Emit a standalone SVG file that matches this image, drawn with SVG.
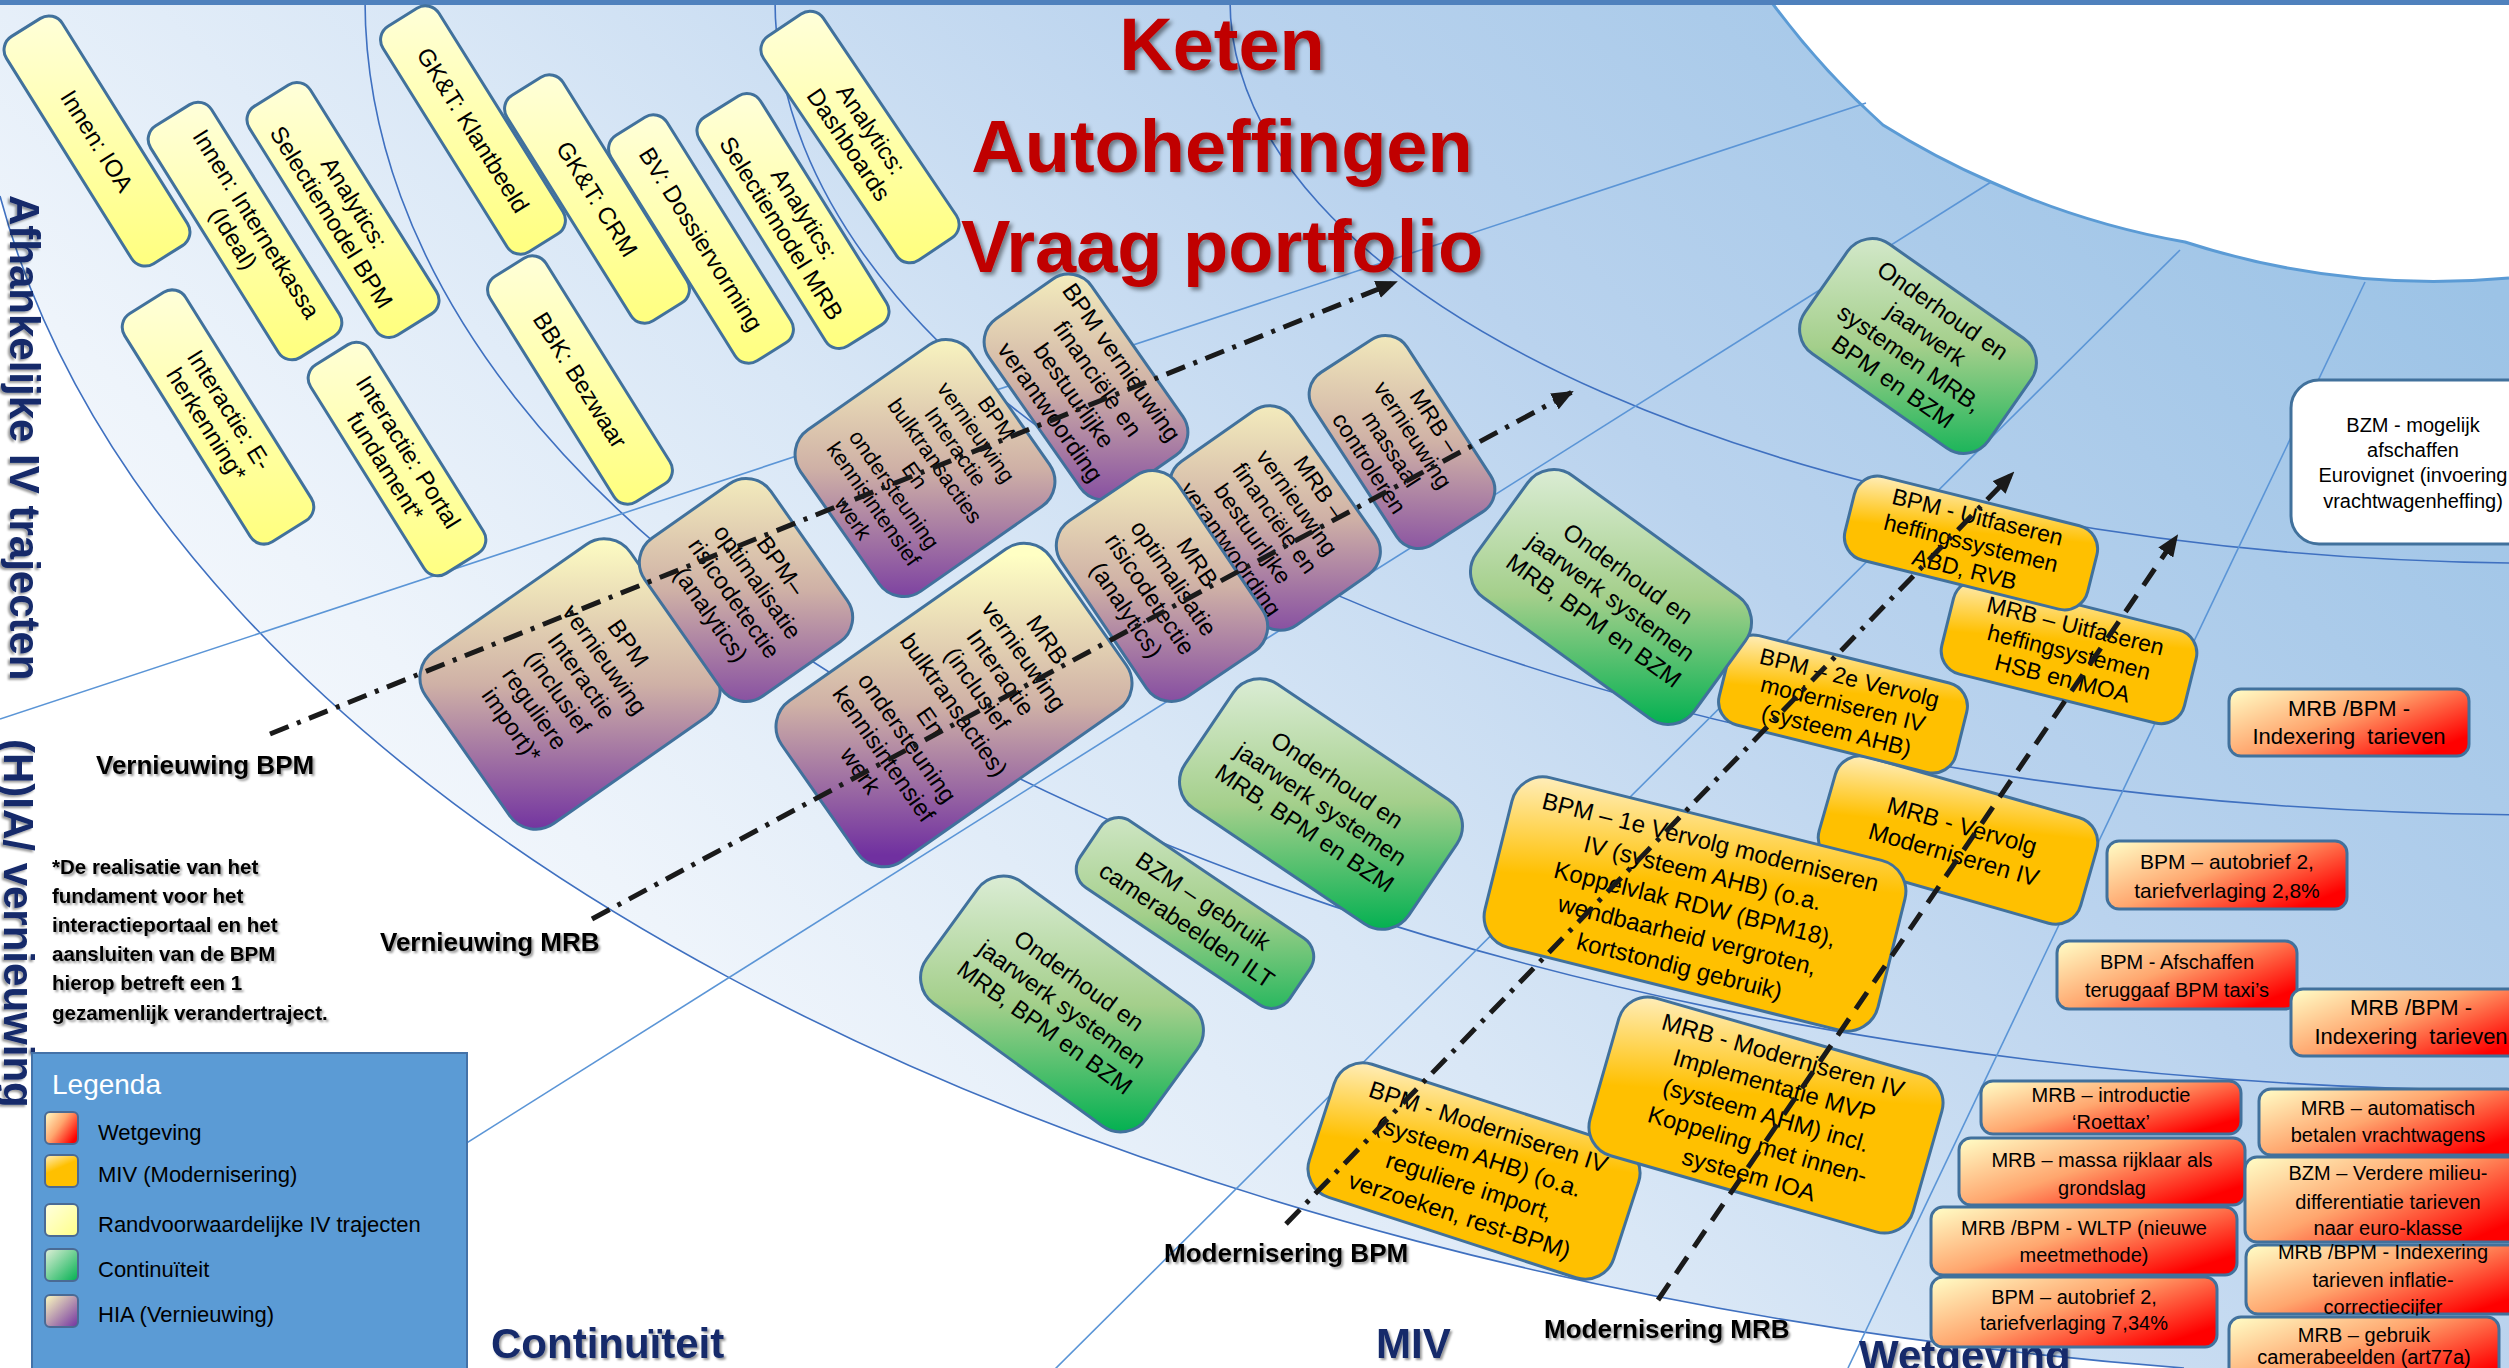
<svg xmlns="http://www.w3.org/2000/svg" width="2509" height="1368" viewBox="0 0 2509 1368">
<defs>
<style>
text{font-family:"Liberation Sans",Arial,sans-serif;}
.arc{fill:none;stroke:#3f70c0;stroke-width:1.6}
.rad{fill:none;stroke:#5b95d6;stroke-width:1.6}
.box{stroke:#41719c;stroke-width:3}
.c{text-anchor:middle;fill:#000}
.f24{font-size:24px}.f23{font-size:23px}.f22{font-size:22px}.f20{font-size:20px}.f21{font-size:21px}
.sec{font-size:42px;font-weight:bold;fill:#13296b;filter:url(#ts)}
.lbl{font-size:26px;font-weight:bold;fill:#000;filter:url(#ts)}
.note{font-size:20.5px;font-weight:bold;fill:#000;filter:url(#ts)}
.title{font-size:74px;font-weight:bold;fill:#c00000;text-anchor:middle;filter:url(#tts)}
.dd{fill:none;stroke:#1a1a1a;stroke-width:5;stroke-dasharray:20 9 4 9;marker-end:url(#ah)}
.ds{fill:none;stroke:#1a1a1a;stroke-width:5;stroke-dasharray:20 12;marker-end:url(#ah)}
</style>
<filter id="ts" x="-5%" y="-10%" width="112%" height="130%"><feDropShadow dx="2" dy="2" stdDeviation="1.2" flood-color="#000" flood-opacity="0.4"/></filter>
<filter id="tts" x="-5%" y="-10%" width="112%" height="130%"><feDropShadow dx="3" dy="3" stdDeviation="2" flood-color="#000" flood-opacity="0.45"/></filter>
<linearGradient id="gBg" gradientUnits="userSpaceOnUse" x1="2350" y1="150" x2="900" y2="1600">
<stop offset="0" stop-color="#9cc3e6"/><stop offset="0.35" stop-color="#bad3ee"/><stop offset="0.62" stop-color="#d9e7f6"/><stop offset="0.85" stop-color="#eef4fb"/><stop offset="1" stop-color="#f7fafd"/>
</linearGradient>
<linearGradient id="gYel" gradientUnits="userSpaceOnUse" x1="-112" y1="-70" x2="112" y2="70"><stop offset="0" stop-color="#ffffdb"/><stop offset="1" stop-color="#ffff7c"/></linearGradient>
<linearGradient id="gHia" gradientUnits="userSpaceOnUse" x1="-123" y1="-86" x2="123" y2="86"><stop offset="0" stop-color="#ffffc4"/><stop offset="0.5" stop-color="#cfb1a6"/><stop offset="1" stop-color="#7030a0"/></linearGradient>
<linearGradient id="gGrn" gradientUnits="userSpaceOnUse" x1="-75" y1="-106" x2="75" y2="106"><stop offset="0" stop-color="#dcedd6"/><stop offset="0.5" stop-color="#a4cf8b"/><stop offset="1" stop-color="#00b050"/></linearGradient>
<linearGradient id="gOra" x1="0" y1="0" x2="0.45" y2="1"><stop offset="0" stop-color="#fff0c4"/><stop offset="0.5" stop-color="#ffc000"/><stop offset="1" stop-color="#ffc000"/></linearGradient>
<linearGradient id="gRed" x1="0" y1="0" x2="1" y2="0.7"><stop offset="0" stop-color="#ffffc8"/><stop offset="0.5" stop-color="#ffa66e"/><stop offset="1" stop-color="#ff0000"/></linearGradient>
<linearGradient id="lY" x1="0" y1="0" x2="1" y2="1"><stop offset="0" stop-color="#ffffe0"/><stop offset="1" stop-color="#ffff88"/></linearGradient>
<linearGradient id="lG" x1="0" y1="0" x2="1" y2="1"><stop offset="0" stop-color="#e2f0d9"/><stop offset="1" stop-color="#00b050"/></linearGradient>
<linearGradient id="lH" x1="0" y1="0" x2="1" y2="1"><stop offset="0" stop-color="#ffffc0"/><stop offset="1" stop-color="#7030a0"/></linearGradient>
<marker id="ah" viewBox="0 0 11 9" refX="10" refY="4.5" markerWidth="22" markerHeight="18" markerUnits="userSpaceOnUse" orient="auto"><path d="M0,0 L11,4.5 L0,9 z" fill="#1a1a1a"/></marker>
</defs>

<rect x="0" y="0" width="2509" height="1368" fill="#fff"/>
<g id="background">
<path d="M0,0 L1770,0 A812,812 0 0 0 1883,125 A812,812 0 0 0 1991,182 A812,812 0 0 0 2185,242 A812,812 0 0 0 2509,278 L2509,1368 L2184,1368 A2576,1382 0 0 1 0,196 Z" fill="url(#gBg)"/>
<path class="arc" d="M1230,0 A1320,563 0 0 0 2509,563"/>
<path class="arc" d="M775,0 A1775,815 0 0 0 2509,814.8"/>
<path class="arc" d="M365,0 A2185,1091 0 0 0 2509,1090.8"/>
<path class="arc" d="M0,196 A2576,1382 0 0 0 2184,1368"/>
<path class="rad" d="M0,719 L1866,103"/>
<path class="rad" d="M400,1185 L1991,182"/>
<path class="rad" d="M1040,1384 L2180,250"/>
<path class="rad" d="M1848,1368 L2365,282"/>
<path fill="none" stroke="#5b9bd5" stroke-width="3" d="M1770,0 A812,812 0 0 0 1883,125 A812,812 0 0 0 1991,182 A812,812 0 0 0 2185,242 A812,812 0 0 0 2509,278"/>
<rect x="0" y="0" width="2509" height="5" fill="#4f81bd"/>
</g>

<g id="sector-labels">
<text class="sec" transform="translate(10,195) rotate(90)">Afhankelijke IV trajecten</text>
<text class="sec" transform="translate(4,739) rotate(90)">(H)IA/ vernieuwing</text>
<text class="sec" x="491" y="1358">Continuïteit</text>
<text class="sec" x="1376" y="1358">MIV</text>
<text class="sec" x="1859" y="1370">Wetgeving</text>
</g>

<g id="title">
<text class="title" x="1222" y="70">Keten</text>
<text class="title" x="1222" y="172">Autoheffingen</text>
<text class="title" x="1222" y="272">Vraag portfolio</text>
</g>

<g id="nodes-randvoorwaardelijk">
<g id="n-innen-ioa" transform="translate(97,141) rotate(58)"><rect class="box" x="-134" y="-33" width="268" height="66" rx="16" fill="url(#gYel)"/><text class="c f24" y="8.4">Innen: IOA</text></g>
<g id="n-internetkassa" transform="translate(245,231) rotate(58)"><rect class="box" x="-136.5" y="-36" width="273" height="72" rx="16" fill="url(#gYel)"/><text class="c f24"><tspan x="0" y="-5.1">Innen: Internetkassa</tspan><tspan x="0" y="21.9">(Ideal)</tspan></text></g>
<g id="n-selectiemodel-bpm" transform="translate(343,210) rotate(58)"><rect class="box" x="-135" y="-36" width="270" height="72" rx="16" fill="url(#gYel)"/><text class="c f24"><tspan x="0" y="-5.1">Analytics:</tspan><tspan x="0" y="21.9">Selectiemodel BPM</tspan></text></g>
<g id="n-eherkenning" transform="translate(218,417) rotate(58)"><rect class="box" x="-134.5" y="-36" width="269" height="72" rx="16" fill="url(#gYel)"/><text class="c f24"><tspan x="0" y="-5.1">Interactie: E-</tspan><tspan x="0" y="21.9">herkenning*</tspan></text></g>
<g id="n-portal" transform="translate(397,459) rotate(58)"><rect class="box" x="-123" y="-35" width="246" height="70" rx="16" fill="url(#gYel)"/><text class="c f24"><tspan x="0" y="-5.1">Interactie: Portal</tspan><tspan x="0" y="21.9">fundament*</tspan></text></g>
<g id="n-klantbeeld" transform="translate(473,130) rotate(58)"><rect class="box" x="-133" y="-33" width="266" height="66" rx="16" fill="url(#gYel)"/><text class="c f24" y="8.4">GK&amp;T: Klantbeeld</text></g>
<g id="n-crm" transform="translate(597,199) rotate(58)"><rect class="box" x="-133" y="-33" width="266" height="66" rx="16" fill="url(#gYel)"/><text class="c f24" y="8.4">GK&amp;T: CRM</text></g>
<g id="n-dossiervorming" transform="translate(701,239) rotate(58)"><rect class="box" x="-133" y="-33" width="266" height="66" rx="16" fill="url(#gYel)"/><text class="c f24" y="8.4">BV: Dossiervorming</text></g>
<g id="n-selectiemodel-mrb" transform="translate(793,221) rotate(58)"><rect class="box" x="-135" y="-36" width="270" height="72" rx="16" fill="url(#gYel)"/><text class="c f24"><tspan x="0" y="-5.1">Analytics:</tspan><tspan x="0" y="21.9">Selectiemodel MRB</tspan></text></g>
<g id="n-dashboards" transform="translate(860,137) rotate(56)"><rect class="box" x="-135" y="-36" width="270" height="72" rx="16" fill="url(#gYel)"/><text class="c f24"><tspan x="0" y="-5.1">Analytics:</tspan><tspan x="0" y="21.9">Dashboards</tspan></text></g>
<g id="n-bezwaar" transform="translate(580,380) rotate(58)"><rect class="box" x="-133" y="-33" width="266" height="66" rx="16" fill="url(#gYel)"/><text class="c f24" y="8.4">BBK: Bezwaar</text></g>
</g>

<g id="nodes-hia">
<g id="n-bpm-fin" transform="translate(1086,387) rotate(55)"><rect class="box" x="-107.5" y="-62.5" width="215" height="125" rx="28" fill="url(#gHia)"/><text class="c f24"><tspan x="0" y="-35.1">BPM vernieuwing</tspan><tspan x="0" y="-6.1">financiële en</tspan><tspan x="0" y="22.9">bestuurlijke</tspan><tspan x="0" y="51.9">verantwoording</tspan></text></g>
<g id="n-mrb-massaal" transform="translate(1402,442) rotate(57)"><rect class="box" x="-102.5" y="-56" width="205" height="112" rx="26" fill="url(#gHia)"/><text class="c f23"><tspan x="0" y="-31">MRB –</tspan><tspan x="0" y="-5">vernieuwing</tspan><tspan x="0" y="21">massaal</tspan><tspan x="0" y="47">controleren</tspan></text></g>
<g id="n-mrb-fin" transform="translate(1275,518) rotate(55)"><rect class="box" x="-100" y="-72" width="200" height="144" rx="28" fill="url(#gHia)"/><text class="c f23"><tspan x="0" y="-46">MRB –</tspan><tspan x="0" y="-19">vernieuwing</tspan><tspan x="0" y="8">financiële en</tspan><tspan x="0" y="35">bestuurlijke</tspan><tspan x="0" y="62">verantwoording</tspan></text></g>
<g id="n-bpm-bulk" transform="translate(925,468) rotate(55)"><rect class="box" x="-98.5" y="-104" width="197" height="208" rx="30" fill="url(#gHia)"/><text class="c f22"><tspan x="0" y="-79.8">BPM</tspan><tspan x="0" y="-54.8">vernieuwing</tspan><tspan x="0" y="-29.8">Interactie</tspan><tspan x="0" y="-4.8">bulktransacties</tspan><tspan x="0" y="20.2">En</tspan><tspan x="0" y="45.2">ondersteuning</tspan><tspan x="0" y="70.2">kennisintensief</tspan><tspan x="0" y="95.2">werk</tspan></text></g>
<g id="n-bpm-interactie" transform="translate(570,684) rotate(55)"><rect class="box" x="-105" y="-125" width="210" height="250" rx="32" fill="url(#gHia)"/><text class="c f24"><tspan x="0" y="-62.85">BPM</tspan><tspan x="0" y="-34.35">vernieuwing</tspan><tspan x="0" y="-5.85">Interactie</tspan><tspan x="0" y="22.65">(inclusief</tspan><tspan x="0" y="51.15">reguliere</tspan><tspan x="0" y="79.65">import)*</tspan></text></g>
<g id="n-bpm-risico" transform="translate(746,590) rotate(55)"><rect class="box" x="-96.5" y="-77" width="193" height="154" rx="30" fill="url(#gHia)"/><text class="c f24"><tspan x="0" y="-34.35">BPM–</tspan><tspan x="0" y="-5.85">optimalisatie</tspan><tspan x="0" y="22.65">risicodetectie</tspan><tspan x="0" y="51.15">(analytics)</tspan></text></g>
<g id="n-mrb-risico" transform="translate(1162,586) rotate(56)"><rect class="box" x="-106" y="-70" width="212" height="140" rx="30" fill="url(#gHia)"/><text class="c f24"><tspan x="0" y="-34.35">MRB</tspan><tspan x="0" y="-5.85">optimalisatie</tspan><tspan x="0" y="22.65">risicodetectie</tspan><tspan x="0" y="51.15">(analytics)</tspan></text></g>
<g id="n-mrb-interactie" transform="translate(954,705) rotate(55)"><rect class="box" x="-98" y="-164" width="196" height="328" rx="32" fill="url(#gHia)"/><text class="c f24"><tspan x="0" y="-105.6">MRB</tspan><tspan x="0" y="-77.1">vernieuwing</tspan><tspan x="0" y="-48.6">Interactie</tspan><tspan x="0" y="-20.1">(inclusief</tspan><tspan x="0" y="8.4">bulktransacties)</tspan><tspan x="0" y="36.9">En</tspan><tspan x="0" y="65.4">ondersteuning</tspan><tspan x="0" y="93.9">kennisintensief</tspan><tspan x="0" y="122.4">werk</tspan></text></g>
</g>

<g id="nodes-miv">
<g id="n-mrb-uitfaseren" transform="translate(2069,652) rotate(14)"><rect class="box" x="-125" y="-48" width="250" height="96" rx="24" fill="url(#gOra)"/><text class="c f23"><tspan x="0" y="-19">MRB – Uitfaseren</tspan><tspan x="0" y="8">heffingsystemen</tspan><tspan x="0" y="35">HSB en MOA</tspan></text></g>
<g id="n-bpm-uitfaseren" transform="translate(1971,543) rotate(14)"><rect class="box" x="-125" y="-43" width="250" height="86" rx="24" fill="url(#gOra)"/><text class="c f23"><tspan x="0" y="-19">BPM - Uitfaseren</tspan><tspan x="0" y="8">heffingssystemen</tspan><tspan x="0" y="35">ABD, RVB</tspan></text></g>
<g id="n-mrb-vervolg" transform="translate(1958,840) rotate(16)"><rect class="box" x="-136" y="-55" width="272" height="110" rx="26" fill="url(#gOra)"/><text class="c f24"><tspan x="0" y="-6.6">MRB - Vervolg</tspan><tspan x="0" y="23.4">Moderniseren IV</tspan></text></g>
<g id="n-bpm-2e" transform="translate(1843,704) rotate(14)"><rect class="box" x="-122" y="-46" width="244" height="92" rx="24" fill="url(#gOra)"/><text class="c f23"><tspan x="0" y="-19">BPM – 2e Vervolg</tspan><tspan x="0" y="8">moderniseren IV</tspan><tspan x="0" y="35">(systeem AHB)</tspan></text></g>
<g id="n-bpm-1e" transform="translate(1695,904) rotate(14)"><rect class="box" x="-202.5" y="-87.5" width="405" height="175" rx="32" fill="url(#gOra)"/><text class="c f24"><tspan x="0" y="-55.6">BPM – 1e Vervolg moderniseren</tspan><tspan x="0" y="-23.6">IV (systeem AHB) (o.a.</tspan><tspan x="0" y="8.4">Koppelvlak RDW (BPM18),</tspan><tspan x="0" y="40.4">wendbaarheid vergroten,</tspan><tspan x="0" y="72.4">kortstondig gebruik)</tspan></text></g>
<g id="n-bpm-moderniseren" transform="translate(1474,1171) rotate(18)"><rect class="box" x="-160" y="-70" width="320" height="140" rx="30" fill="url(#gOra)"/><text class="c f24"><tspan x="0" y="-38.1">BPM - Moderniseren IV</tspan><tspan x="0" y="-7.1">(systeem AHB) (o.a.</tspan><tspan x="0" y="23.9">reguliere import,</tspan><tspan x="0" y="54.9">verzoeken, rest-BPM)</tspan></text></g>
<g id="n-mrb-moderniseren" transform="translate(1766,1115) rotate(16)"><rect class="box" x="-168" y="-82" width="336" height="164" rx="30" fill="url(#gOra)"/><text class="c f24"><tspan x="0" y="-53.6">MRB - Moderniseren IV</tspan><tspan x="0" y="-22.6">Implementatie MVP</tspan><tspan x="0" y="8.4">(systeem AHM) incl.</tspan><tspan x="0" y="39.4">Koppeling met innen-</tspan><tspan x="0" y="70.4">systeem IOA</tspan></text></g>
</g>

<g id="nodes-continuiteit">
<g id="n-onderhoud-1" transform="translate(1918,346) rotate(35)"><rect class="box" x="-112" y="-67" width="224" height="134" rx="30" fill="url(#gGrn)"/><text class="c f24"><tspan x="0" y="-35.1">Onderhoud en</tspan><tspan x="0" y="-6.1">jaarwerk</tspan><tspan x="0" y="22.9">systemen MRB,</tspan><tspan x="0" y="51.9">BPM en BZM</tspan></text></g>
<g id="n-onderhoud-2" transform="translate(1611,597) rotate(36)"><rect class="box" x="-134.5" y="-75.5" width="269" height="151" rx="32" fill="url(#gGrn)"/><text class="c f24"><tspan x="0" y="-20.6">Onderhoud en</tspan><tspan x="0" y="8.4">jaarwerk systemen</tspan><tspan x="0" y="37.4">MRB, BPM en BZM</tspan></text></g>
<g id="n-onderhoud-3" transform="translate(1321,804) rotate(34)"><rect class="box" x="-135" y="-75" width="270" height="150" rx="32" fill="url(#gGrn)"/><text class="c f24"><tspan x="0" y="-20.6">Onderhoud en</tspan><tspan x="0" y="8.4">jaarwerk systemen</tspan><tspan x="0" y="37.4">MRB, BPM en BZM</tspan></text></g>
<g id="n-bzm-ilt" transform="translate(1195,913) rotate(34)"><rect class="box" x="-126.5" y="-40" width="253" height="80" rx="22" fill="url(#gGrn)"/><text class="c f24"><tspan x="0" y="-6.1">BZM – gebruik</tspan><tspan x="0" y="22.9">camerabeelden ILT</tspan></text></g>
<g id="n-onderhoud-4" transform="translate(1062,1004) rotate(36)"><rect class="box" x="-136" y="-75" width="272" height="150" rx="32" fill="url(#gGrn)"/><text class="c f24"><tspan x="0" y="-20.6">Onderhoud en</tspan><tspan x="0" y="8.4">jaarwerk systemen</tspan><tspan x="0" y="37.4">MRB, BPM en BZM</tspan></text></g>
</g>

<g id="nodes-wetgeving">
<g id="n-bzm-eurovignet"><rect class="box" x="2291" y="380" width="250" height="164" rx="28" fill="#fff"/><text class="c f20"><tspan x="2413" y="432">BZM - mogelijk</tspan><tspan x="2413" y="457">afschaffen</tspan><tspan x="2413" y="482">Eurovignet (invoering</tspan><tspan x="2413" y="508">vrachtwagenheffing)</tspan></text></g>
<g id="n-index-1"><rect class="box" x="2229" y="689" width="240" height="67" rx="12" fill="url(#gRed)"/><text class="c f22" xml:space="preserve"><tspan x="2349" y="716">MRB /BPM -</tspan><tspan x="2349" y="744">Indexering  tarieven</tspan></text></g>
<g id="n-autobrief-28"><rect class="box" x="2107" y="841" width="240" height="68" rx="12" fill="url(#gRed)"/><text class="c f21"><tspan x="2227" y="869">BPM – autobrief 2,</tspan><tspan x="2227" y="898">tariefverlaging 2,8%</tspan></text></g>
<g id="n-taxi"><rect class="box" x="2057" y="941" width="240" height="68" rx="12" fill="url(#gRed)"/><text class="c f20"><tspan x="2177" y="969">BPM - Afschaffen</tspan><tspan x="2177" y="997">teruggaaf BPM taxi’s</tspan></text></g>
<g id="n-index-2"><rect class="box" x="2291" y="989" width="240" height="67" rx="12" fill="url(#gRed)"/><text class="c f22" xml:space="preserve"><tspan x="2411" y="1015">MRB /BPM -</tspan><tspan x="2411" y="1044">Indexering  tarieven</tspan></text></g>
<g id="n-roettax"><rect class="box" x="1981" y="1081" width="260" height="53" rx="12" fill="url(#gRed)"/><text class="c f20"><tspan x="2111" y="1102">MRB – introductie</tspan><tspan x="2111" y="1129">‘Roettax’</tspan></text></g>
<g id="n-vrachtwagens"><rect class="box" x="2259" y="1089" width="260" height="66" rx="12" fill="url(#gRed)"/><text class="c f20"><tspan x="2388" y="1115">MRB – automatisch</tspan><tspan x="2388" y="1142">betalen vrachtwagens</tspan></text></g>
<g id="n-massa"><rect class="box" x="1959" y="1138" width="286" height="67" rx="12" fill="url(#gRed)"/><text class="c f20"><tspan x="2102" y="1167">MRB – massa rijklaar als</tspan><tspan x="2102" y="1195">grondslag</tspan></text></g>
<g id="n-euroklasse"><rect class="box" x="2245" y="1157" width="280" height="85" rx="12" fill="url(#gRed)"/><text class="c f20"><tspan x="2388" y="1180">BZM – Verdere milieu-</tspan><tspan x="2388" y="1209">differentiatie tarieven</tspan><tspan x="2388" y="1235">naar euro-klasse</tspan></text></g>
<g id="n-wltp"><rect class="box" x="1931" y="1207" width="306" height="68" rx="12" fill="url(#gRed)"/><text class="c f20"><tspan x="2084" y="1235">MRB /BPM - WLTP (nieuwe</tspan><tspan x="2084" y="1262">meetmethode)</tspan></text></g>
<g id="n-inflatie"><rect class="box" x="2246" y="1245" width="280" height="69" rx="12" fill="url(#gRed)"/><text class="c f20"><tspan x="2383" y="1259">MRB /BPM - Indexering</tspan><tspan x="2383" y="1287">tarieven inflatie-</tspan><tspan x="2383" y="1314">correctiecijfer</tspan></text></g>
<g id="n-autobrief-734"><rect class="box" x="1931" y="1277" width="286" height="70" rx="12" fill="url(#gRed)"/><text class="c f20"><tspan x="2074" y="1304">BPM – autobrief 2,</tspan><tspan x="2074" y="1330">tariefverlaging 7,34%</tspan></text></g>
<g id="n-art77a"><rect class="box" x="2229" y="1317" width="270" height="70" rx="12" fill="url(#gRed)"/><text class="c f20"><tspan x="2364" y="1342">MRB – gebruik</tspan><tspan x="2364" y="1364">camerabeelden (art77a)</tspan></text></g>
</g>

<g id="connectors">
<path class="dd" d="M270,734 L1396,282"/>
<path class="dd" d="M592,919 L1572,392"/>
<path class="dd" d="M1286,1224 L2013,473"/>
<path class="ds" d="M1658,1300 L2177,536"/>
</g>

<g id="labels">
<text class="lbl" x="96" y="774">Vernieuwing BPM</text>
<text class="lbl" x="380" y="951">Vernieuwing MRB</text>
<text class="lbl" x="1164" y="1262">Modernisering BPM</text>
<text class="lbl" x="1544" y="1338">Modernisering MRB</text>
<text class="note"><tspan x="52" y="874">*De realisatie van het</tspan><tspan x="52" y="903">fundament voor het</tspan><tspan x="52" y="932">interactieportaal en het</tspan><tspan x="52" y="961">aansluiten van de BPM</tspan><tspan x="52" y="990">hierop betreft een 1</tspan><tspan x="52" y="1020">gezamenlijk verandertraject.</tspan></text>
</g>

<g id="legend">
<rect x="32" y="1053" width="435" height="330" fill="#5b9bd5" stroke="#4472a8" stroke-width="2"/>
<text x="52" y="1094" font-size="28" fill="#fff">Legenda</text>
<rect x="45" y="1112" width="33" height="32" rx="5" fill="url(#gRed)" stroke="#4a6a94" stroke-width="2"/>
<rect x="45" y="1155" width="33" height="32" rx="5" fill="url(#gOra)" stroke="#4a6a94" stroke-width="2"/>
<rect x="45" y="1204" width="33" height="32" rx="5" fill="url(#lY)" stroke="#4a6a94" stroke-width="2"/>
<rect x="45" y="1249" width="33" height="32" rx="5" fill="url(#lG)" stroke="#4a6a94" stroke-width="2"/>
<rect x="45" y="1295" width="33" height="32" rx="5" fill="url(#lH)" stroke="#4a6a94" stroke-width="2"/>
<text font-size="22" fill="#000"><tspan x="98" y="1140">Wetgeving</tspan><tspan x="98" y="1182">MIV (Modernisering)</tspan><tspan x="98" y="1232">Randvoorwaardelijke IV trajecten</tspan><tspan x="98" y="1277">Continuïteit</tspan><tspan x="98" y="1322">HIA (Vernieuwing)</tspan></text>
</g>
</svg>
